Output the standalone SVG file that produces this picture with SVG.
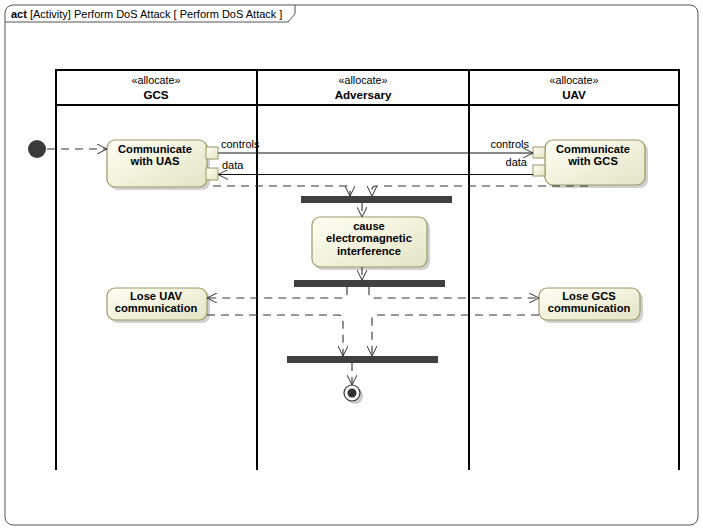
<svg xmlns="http://www.w3.org/2000/svg" width="703" height="530" viewBox="0 0 703 530">
<style>
text{font-family:"Liberation Sans",Arial,sans-serif;fill:#000}
.nt{font-size:11.2px;font-weight:bold;text-anchor:middle}
.lt{font-size:11px}
.st{font-size:10.8px;text-anchor:middle}
.ln{font-size:11.6px;font-weight:bold;text-anchor:middle}
.node{fill:url(#g);stroke:#9a9a66;stroke-width:1.2}
.sh{fill:#b0b0b0;opacity:0.6}
.pin{fill:url(#g);stroke:#9a9a66;stroke-width:1}
.flow{fill:none;stroke:#333;stroke-width:1.1;stroke-dasharray:8,6;marker-end:url(#a)}
.obj{fill:none;stroke:#111;stroke-width:1;marker-end:url(#a)}
.bar{fill:#404040}
.lane{stroke:#000;stroke-width:2;fill:none}
</style>
<defs>
<linearGradient id="g" x1="0" y1="0" x2="1" y2="1">
<stop offset="0" stop-color="#fffff4"/>
<stop offset="1" stop-color="#e4e4c6"/>
</linearGradient>
<marker id="a" viewBox="0 0 10 10" refX="10" refY="5" markerWidth="10" markerHeight="10" markerUnits="userSpaceOnUse" orient="auto">
<path d="M0,0 L10,5 L0,10" fill="none" stroke="#333" stroke-width="1"/>
</marker>
</defs>
<rect x="0" y="0" width="703" height="530" fill="#fff"/>
<g id="frame">
<rect x="5" y="5" width="693" height="520" rx="8" fill="none" stroke="#555" stroke-width="1"/>
<path d="M5,22 L288,22 L295,14 L295,5" fill="none" stroke="#555" stroke-width="1"/>
<text x="11" y="18" class="lt"><tspan font-weight="bold">act</tspan> [Activity] Perform DoS Attack [ Perform DoS Attack ]</text>
</g>
<g id="lanes">
<path class="lane" d="M56,470 V70 H679 V470 M257,70 V470 M469,70 V470 M56,105 H679"/>
<text x="156" y="84" class="st">«allocate»</text>
<text x="156" y="99" class="ln">GCS</text>
<text x="363" y="84" class="st">«allocate»</text>
<text x="363" y="99" class="ln">Adversary</text>
<text x="574" y="84" class="st">«allocate»</text>
<text x="574" y="99" class="ln">UAV</text>
</g>
<g id="initial">
<circle cx="37" cy="149" r="9" fill="#3a3a3a"/>
</g>
<g id="comm_uas">
<rect class="sh" x="110" y="143" width="100" height="47" rx="8"/>
<rect class="node" x="107" y="140" width="100" height="47" rx="8"/>
<text x="155" y="152.5" class="nt">Communicate</text>
<text x="155" y="165.3" class="nt">with UAS</text>
<rect class="pin" x="206" y="147" width="12" height="12"/>
<rect class="pin" x="206" y="168" width="12" height="12"/>
<text x="221" y="148" class="lt">controls</text>
<text x="222" y="169" class="lt">data</text>
</g>
<g id="comm_gcs">
<rect class="sh" x="548" y="143" width="100" height="45" rx="8"/>
<rect class="node" x="545" y="140" width="100" height="45" rx="8"/>
<text x="593" y="152.5" class="nt">Communicate</text>
<text x="593" y="165.3" class="nt">with GCS</text>
<rect class="pin" x="533" y="147" width="12" height="11"/>
<rect class="pin" x="533" y="165" width="12" height="11"/>
<text x="529" y="148" class="lt" text-anchor="end">controls</text>
<text x="527" y="166" class="lt" text-anchor="end">data</text>
</g>
<g id="fork1"><rect class="bar" x="301" y="196" width="151" height="7"/></g>
<g id="cause_emi">
<rect class="sh" x="315" y="220" width="115" height="50" rx="8"/>
<rect class="node" x="312" y="217" width="115" height="50" rx="8"/>
<text x="369" y="229.5" class="nt">cause</text>
<text x="369" y="242.3" class="nt">electromagnetic</text>
<text x="369" y="255.1" class="nt">interference</text>
</g>
<g id="fork2"><rect class="bar" x="294" y="280" width="151" height="7"/></g>
<g id="lose_uav">
<rect class="sh" x="110" y="291" width="100" height="32" rx="8"/>
<rect class="node" x="107" y="288" width="100" height="32" rx="8"/>
<text x="156" y="299.5" class="nt">Lose UAV</text>
<text x="156" y="312.3" class="nt">communication</text>
</g>
<g id="lose_gcs">
<rect class="sh" x="542" y="291" width="101" height="32" rx="8"/>
<rect class="node" x="539" y="288" width="101" height="32" rx="8"/>
<text x="589" y="299.5" class="nt">Lose GCS</text>
<text x="589" y="312.3" class="nt">communication</text>
</g>
<g id="join"><rect class="bar" x="287" y="356" width="151" height="7"/></g>
<g id="final">
<circle cx="355" cy="396" r="8" fill="#aaa" opacity="0.6"/>
<circle cx="352" cy="393" r="8" fill="#fff" stroke="#333" stroke-width="1.2"/>
<circle cx="352" cy="393" r="4.5" fill="#333"/>
</g>
<g id="connectors">
<path class="flow" d="M47,149 H107"/>
<path class="obj" d="M218,153 H533"/>
<path class="obj" d="M533,174.5 H218"/>
<path class="flow" d="M213,186 H346 Q350,186 350,190 V196"/>
<path class="flow" d="M588,186 H376 Q372,186 372,190 V196"/>
<path class="flow" d="M362,203 V217" stroke-dasharray="none"/>
<path class="flow" d="M362,267 V280" stroke-dasharray="none"/>
<path class="flow" d="M347,287 V294 Q347,298 343,298 H207"/>
<path class="flow" d="M369,287 V294 Q369,298 373,298 H539"/>
<path class="flow" d="M207,315 H339 Q343,315 343,319 V356"/>
<path class="flow" d="M539,315 H376 Q372,315 372,319 V356"/>
<path class="flow" d="M352,363 V385" stroke-dasharray="2,3"/>
</g>
</svg>
